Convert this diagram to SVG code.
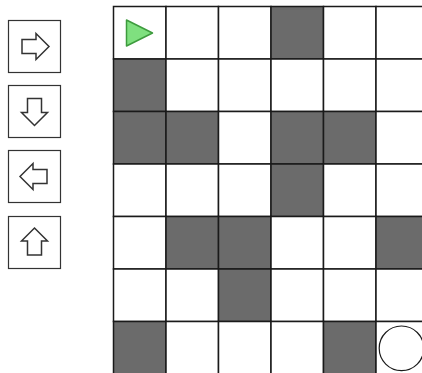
<svg xmlns="http://www.w3.org/2000/svg" width="422" height="373" viewBox="0 0 422 373">
<style>
.btn{fill:#fff;stroke:#333;stroke-width:1.2}
.arr{fill:#fff;stroke:#333;stroke-width:1.5;stroke-linejoin:miter}
.c{fill:#fff;stroke:#1a1a1a;stroke-width:1.5}
.d{fill:#6b6b6b;stroke:#1a1a1a;stroke-width:1.5}
</style>
<defs>
<path id="arrow" d="M-13,-7 L1,-7 L1,-13 L14,0 L1,13 L1,7 L-13,7 Z"/>
</defs>
<rect width="422" height="373" fill="#fff"/>
<g id="controls">
<g id="btn-right"><rect class="btn" x="8.5" y="20.5" width="52" height="52"/><use href="#arrow" class="arr" transform="translate(35,46.5)"/></g>
<g id="btn-down"><rect class="btn" x="8.5" y="85.5" width="52" height="52"/><use href="#arrow" class="arr" transform="translate(34.5,111.5) rotate(90)"/></g>
<g id="btn-left"><rect class="btn" x="8.5" y="150.5" width="52" height="52"/><use href="#arrow" class="arr" transform="translate(34,176.5) rotate(180)"/></g>
<g id="btn-up"><rect class="btn" x="8.5" y="216.5" width="52" height="52"/><use href="#arrow" class="arr" transform="translate(34.5,242) rotate(-90)"/></g>
</g>
<g id="grid">
<g id="row0">
<rect class="c" x="113.5" y="6.5" width="52.5" height="52.5"/>
<rect class="c" x="166" y="6.5" width="52.5" height="52.5"/>
<rect class="c" x="218.5" y="6.5" width="52.5" height="52.5"/>
<rect class="d" x="271" y="6.5" width="52.5" height="52.5"/>
<rect class="c" x="323.5" y="6.5" width="52.5" height="52.5"/>
<rect class="c" x="376" y="6.5" width="52.5" height="52.5"/>
</g>
<g id="row1">
<rect class="d" x="113.5" y="59" width="52.5" height="52.5"/>
<rect class="c" x="166" y="59" width="52.5" height="52.5"/>
<rect class="c" x="218.5" y="59" width="52.5" height="52.5"/>
<rect class="c" x="271" y="59" width="52.5" height="52.5"/>
<rect class="c" x="323.5" y="59" width="52.5" height="52.5"/>
<rect class="c" x="376" y="59" width="52.5" height="52.5"/>
</g>
<g id="row2">
<rect class="d" x="113.5" y="111.5" width="52.5" height="52.5"/>
<rect class="d" x="166" y="111.5" width="52.5" height="52.5"/>
<rect class="c" x="218.5" y="111.5" width="52.5" height="52.5"/>
<rect class="d" x="271" y="111.5" width="52.5" height="52.5"/>
<rect class="d" x="323.5" y="111.5" width="52.5" height="52.5"/>
<rect class="c" x="376" y="111.5" width="52.5" height="52.5"/>
</g>
<g id="row3">
<rect class="c" x="113.5" y="164" width="52.5" height="52.5"/>
<rect class="c" x="166" y="164" width="52.5" height="52.5"/>
<rect class="c" x="218.5" y="164" width="52.5" height="52.5"/>
<rect class="d" x="271" y="164" width="52.5" height="52.5"/>
<rect class="c" x="323.5" y="164" width="52.5" height="52.5"/>
<rect class="c" x="376" y="164" width="52.5" height="52.5"/>
</g>
<g id="row4">
<rect class="c" x="113.5" y="216.5" width="52.5" height="52.5"/>
<rect class="d" x="166" y="216.5" width="52.5" height="52.5"/>
<rect class="d" x="218.5" y="216.5" width="52.5" height="52.5"/>
<rect class="c" x="271" y="216.5" width="52.5" height="52.5"/>
<rect class="c" x="323.5" y="216.5" width="52.5" height="52.5"/>
<rect class="d" x="376" y="216.5" width="52.5" height="52.5"/>
</g>
<g id="row5">
<rect class="c" x="113.5" y="269" width="52.5" height="52.5"/>
<rect class="c" x="166" y="269" width="52.5" height="52.5"/>
<rect class="d" x="218.5" y="269" width="52.5" height="52.5"/>
<rect class="c" x="271" y="269" width="52.5" height="52.5"/>
<rect class="c" x="323.5" y="269" width="52.5" height="52.5"/>
<rect class="c" x="376" y="269" width="52.5" height="52.5"/>
</g>
<g id="row6">
<rect class="d" x="113.5" y="321.5" width="52.5" height="52.5"/>
<rect class="c" x="166" y="321.5" width="52.5" height="52.5"/>
<rect class="c" x="218.5" y="321.5" width="52.5" height="52.5"/>
<rect class="c" x="271" y="321.5" width="52.5" height="52.5"/>
<rect class="d" x="323.5" y="321.5" width="52.5" height="52.5"/>
<rect class="c" x="376" y="321.5" width="52.5" height="52.5"/>
</g>
</g>
<g id="start"><polygon points="126.5,20 126.5,46 152.5,33" fill="#7fe07f" stroke="#3d9b3d" stroke-width="1.5" stroke-linejoin="round"/></g>
<g id="goal"><circle cx="401.5" cy="348.3" r="22.3" fill="#fff" stroke="#1a1a1a" stroke-width="1.2"/></g>
<g id="connectors"/>
</svg>
